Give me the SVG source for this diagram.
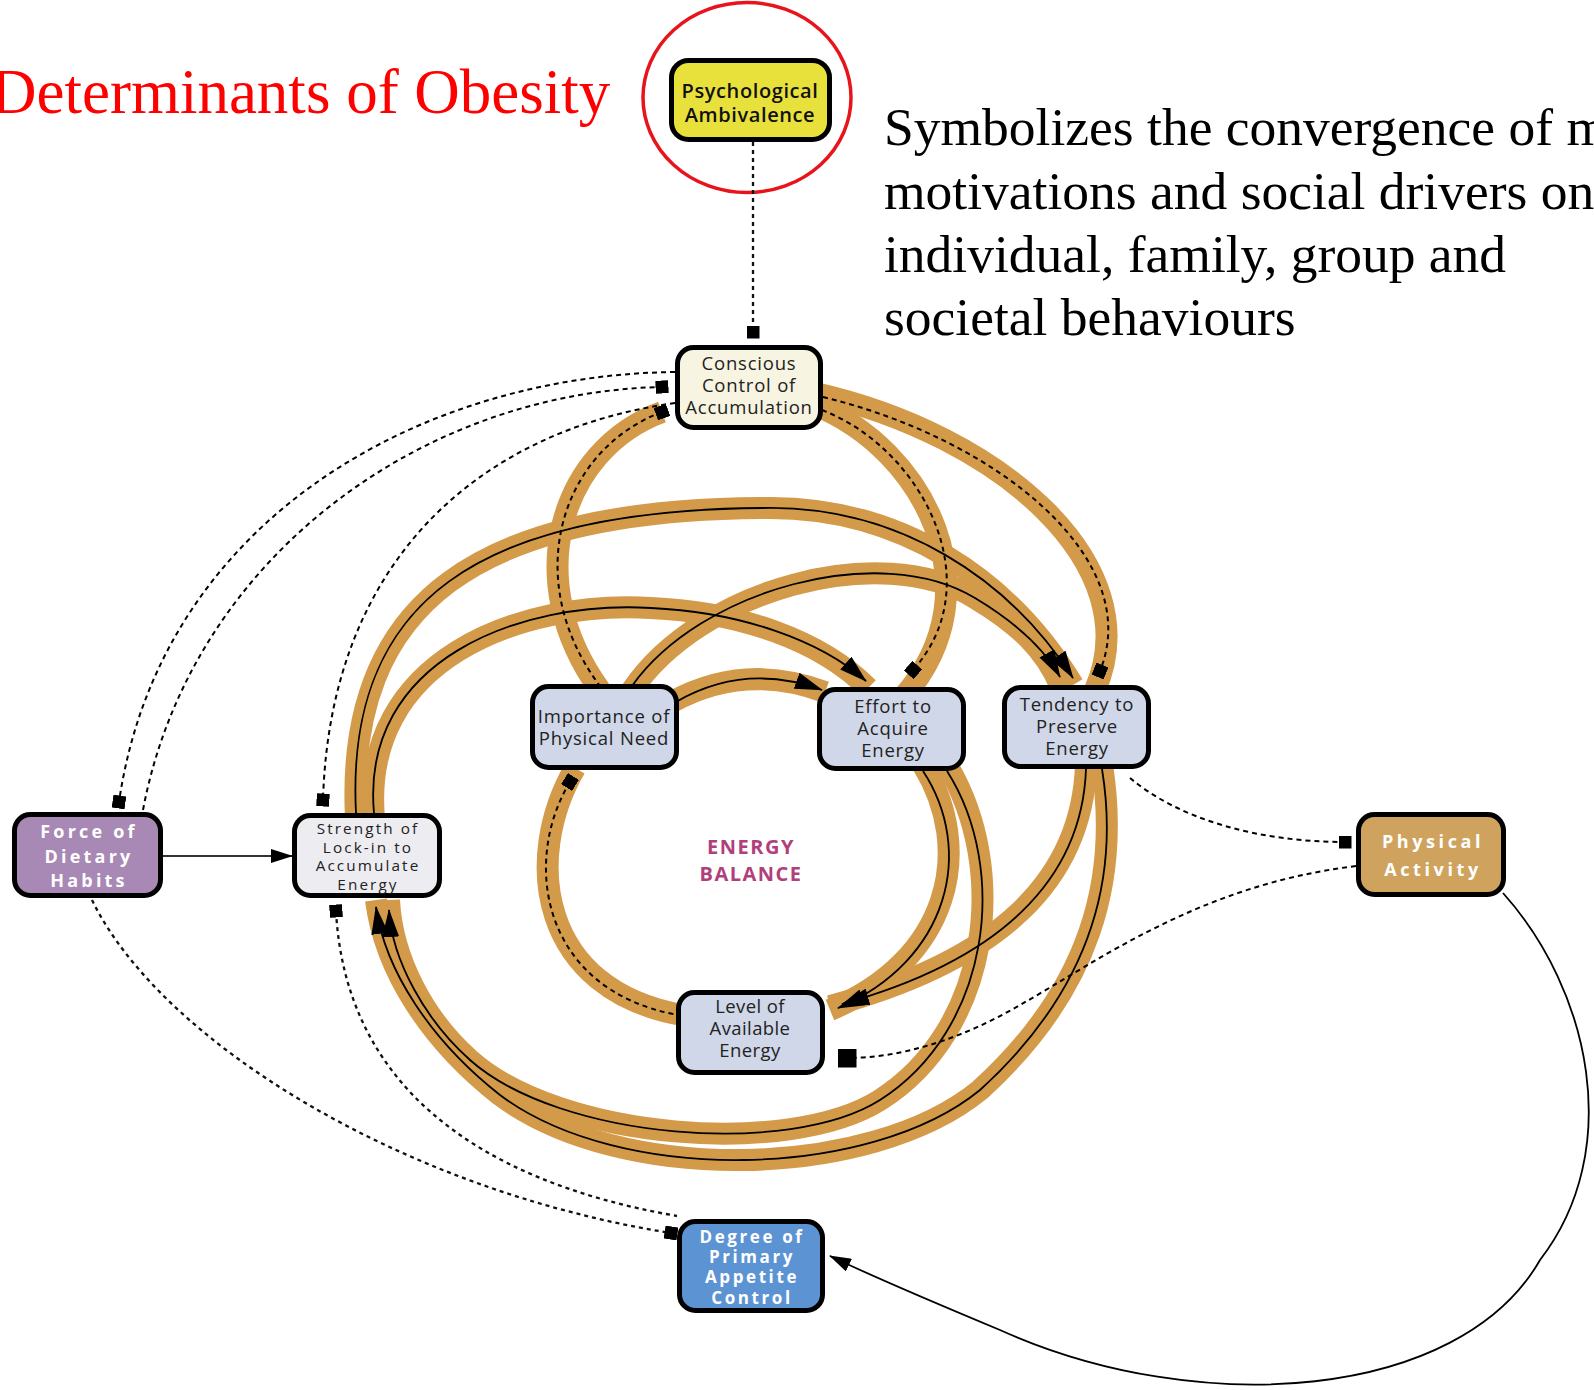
<svg xmlns="http://www.w3.org/2000/svg" width="1594" height="1390" viewBox="0 0 1594 1390">
<defs>
<style>
.band{fill:none;stroke:#d39a49;stroke-width:22;}
.ln{fill:none;stroke:#000;stroke-width:1.8;}
.dl{fill:none;stroke:#000;stroke-width:2;stroke-dasharray:5 4;}
.dt{fill:none;stroke:#111;stroke-width:2.3;stroke-dasharray:4 4;}
.box{stroke:#000;stroke-width:5;}
.t{font-family:"Open Sans","Noto Sans",sans-serif;font-size:18.5px;fill:#222;text-anchor:middle;letter-spacing:0.8px;}
.w{font-family:"Open Sans","Noto Sans",sans-serif;font-weight:700;fill:#fff;text-anchor:middle;}
</style>
<marker id="arr" viewBox="0 0 28 17" refX="27" refY="8.5" markerWidth="28" markerHeight="17" markerUnits="userSpaceOnUse" orient="auto"><path d="M0,0 L28,8.5 L0,17 z" fill="#000"/></marker>
<marker id="arrS" viewBox="0 0 22 14" refX="21" refY="7" markerWidth="22" markerHeight="14" markerUnits="userSpaceOnUse" orient="auto"><path d="M0,0 L22,7 L0,14 z" fill="#000"/></marker>
<marker id="sq" viewBox="0 0 13 13" refX="6.5" refY="6.5" markerWidth="13" markerHeight="13" markerUnits="userSpaceOnUse" orient="auto"><rect width="13" height="13" fill="#000"/></marker>
<marker id="sqL" viewBox="0 0 19 19" refX="9.5" refY="9.5" markerWidth="19" markerHeight="19" markerUnits="userSpaceOnUse" orient="0"><rect width="19" height="19" fill="#000"/></marker>
</defs>
<rect width="1594" height="1390" fill="#fff"/>

<text x="-9" y="113" font-family="Liberation Serif, serif" font-size="63" fill="#f00">Determinants of Obesity</text>
<ellipse cx="747" cy="97.5" rx="104" ry="95" fill="none" stroke="#e8141c" stroke-width="3.5"/>
<g font-family="Liberation Serif, serif" font-size="53.5" fill="#000">
<text x="884" y="145">Symbolizes the convergence of m</text>
<text x="884" y="209">motivations and social drivers on</text>
<text x="884" y="272">individual, family, group and</text>
<text x="884" y="335">societal behaviours</text>
</g>

<g id="connectors">
<!-- orange bands -->
<path class="band" d="M 662 412 C 560 450 520 580 600 690"/>
<path class="band" d="M 815 405 C 925 450 995 590 905 695"/>
<path class="band" d="M 815 393 C 1000 435 1150 565 1095 690"/>
<path class="band" d="M 356 818 C 345 600 480 510 762 508 C 900 505 1010 580 1073 685"/>
<path class="band" d="M 374 818 C 360 660 520 600 651 608 C 740 612 820 640 868 688"/>
<path class="band" d="M 632 690 C 700 590 880 540 975 598 C 1020 625 1045 650 1060 685"/>
<path class="band" d="M 672 702 Q 745 662 825 692"/>
<path class="band" d="M 575 768 C 522 860 540 990 682 1015"/>
<path class="band" d="M 923 765 C 975 850 950 960 830 1010"/>
<path class="band" d="M 1086 765 C 1082 880 1000 960 830 1006"/>
<path class="band" d="M 947 765 C 1010 870 990 1030 880 1100 C 790 1157 560 1140 470 1060 C 425 1020 392 960 389 900"/>
<path class="band" d="M 1102 765 C 1120 880 1090 990 980 1090 C 870 1180 620 1185 500 1095 C 430 1040 385 970 376 900"/>

<!-- lines inside bands -->
<path class="dl" d="M 662 412 C 560 450 520 580 600 686" marker-start="url(#sq)"/>
<path class="dl" d="M 822 410 C 925 450 990 585 913 670" marker-end="url(#sq)"/>
<path class="dl" d="M 823 397 C 1000 440 1145 560 1100 671" marker-end="url(#sq)"/>
<path class="ln" d="M 356 813 C 345 600 480 510 762 508 C 900 505 1010 580 1073 678" marker-end="url(#arr)"/>
<path class="ln" d="M 374 813 C 360 660 520 600 651 608 C 740 612 820 640 866 681" marker-end="url(#arr)"/>
<path class="ln" d="M 632 686 C 700 590 880 540 975 598 C 1020 625 1045 650 1060 677" marker-end="url(#arr)"/>
<path class="ln" d="M 676 702 Q 745 662 822 690" marker-end="url(#arr)"/>
<path class="dl" d="M 570 782 C 522 860 540 990 678 1015" marker-start="url(#sq)"/>
<path class="ln" d="M 923 771 C 975 850 950 960 838 1008" marker-end="url(#arr)"/>
<path class="ln" d="M 1086 769 C 1082 880 1000 960 842 1004" marker-end="url(#arr)"/>
<path class="ln" d="M 947 771 C 1010 870 990 1030 880 1100 C 790 1157 560 1140 470 1060 C 425 1020 392 960 389 910" marker-end="url(#arr)"/>
<path class="ln" d="M 1102 769 C 1120 880 1090 990 980 1090 C 870 1180 620 1185 500 1095 C 430 1040 385 970 376 907" marker-end="url(#arr)"/>

<!-- thin connectors -->
<path class="dt" stroke="#555" d="M 753 142 L 753 332" marker-end="url(#sq)"/>
<path class="dl" d="M 675 372 C 420 375 160 520 119 802" marker-end="url(#sq)"/>
<path class="dl" d="M 143 810 C 190 560 420 392 662 387" marker-end="url(#sq)"/>
<path class="dl" d="M 675 403 C 480 430 330 560 323 800" marker-end="url(#sq)"/>
<path d="M 163 856 L 292 856" fill="none" stroke="#333" stroke-width="2" marker-end="url(#arrS)"/>
<path class="dt" d="M 92 900 C 160 1040 400 1190 671 1233" marker-end="url(#sq)"/>
<path class="dt" d="M 336 911 C 345 1080 470 1180 677 1216" marker-start="url(#sq)"/>
<path class="dl" d="M 1130 778 C 1180 820 1260 842 1345 842" marker-end="url(#sq)"/>
<path class="dl" d="M 1356 866 C 1200 885 1100 960 1020 1005 C 960 1040 900 1058 847 1058" marker-end="url(#sqL)"/>
<path class="ln" d="M 1503 893 C 1590 990 1625 1150 1540 1260 C 1460 1400 1200 1420 1000 1330 C 940 1305 880 1280 830 1256" marker-end="url(#arrS)"/>
</g>

<g id="psych"><rect class="box" x="671.5" y="60.5" width="158" height="79" rx="17" fill="#e9e13b"/>
<text class="t" style="font-size:20px;font-weight:600;fill:#111;letter-spacing:0.6px"><tspan x="750" y="98">Psychological</tspan><tspan x="750" y="122">Ambivalence</tspan></text></g>

<g id="conscious"><rect class="box" x="677.5" y="347.5" width="143" height="80" rx="16" fill="#f7f4e1"/>
<text class="t"><tspan x="749" y="370">Conscious</tspan><tspan x="749" y="392">Control of</tspan><tspan x="749" y="414">Accumulation</tspan></text></g>

<g id="importance"><rect class="box" x="532.5" y="686.5" width="144" height="81" rx="16" fill="#d0d7e8"/>
<text class="t"><tspan x="604" y="723">Importance of</tspan><tspan x="604" y="745">Physical Need</tspan></text></g>

<g id="effort"><rect class="box" x="819.5" y="689.5" width="144" height="79" rx="16" fill="#d0d7e8"/>
<text class="t"><tspan x="893" y="713">Effort to</tspan><tspan x="893" y="735">Acquire</tspan><tspan x="893" y="757">Energy</tspan></text></g>

<g id="tendency"><rect class="box" x="1004.5" y="687.5" width="144" height="79" rx="16" fill="#d0d7e8"/>
<text class="t"><tspan x="1077" y="711">Tendency to</tspan><tspan x="1077" y="733">Preserve</tspan><tspan x="1077" y="755">Energy</tspan></text></g>

<g id="force"><rect class="box" x="14.5" y="814.5" width="146" height="81" rx="16" fill="#a888b4"/>
<text class="w" style="font-size:18px;letter-spacing:3.2px"><tspan x="89" y="838">Force of</tspan><tspan x="89" y="863">Dietary</tspan><tspan x="89" y="887">Habits</tspan></text></g>

<g id="strength"><rect class="box" x="294.5" y="815.5" width="145" height="80" rx="16" fill="#ededf1"/>
<text class="t" style="font-size:15.3px;letter-spacing:2.1px"><tspan x="368" y="834">Strength of</tspan><tspan x="368" y="852.5">Lock-in to</tspan><tspan x="368" y="871">Accumulate</tspan><tspan x="368" y="889.5">Energy</tspan></text></g>

<g id="level"><rect class="box" x="678.5" y="992.5" width="144" height="80" rx="16" fill="#d0d7e8"/>
<text class="t" style="letter-spacing:0.4px"><tspan x="750" y="1013">Level of</tspan><tspan x="750" y="1035">Available</tspan><tspan x="750" y="1057">Energy</tspan></text></g>

<g id="physical"><rect class="box" x="1358.5" y="814.5" width="145" height="80" rx="16" fill="#cfa35e"/>
<text class="w" style="font-size:18px;letter-spacing:3.6px"><tspan x="1433" y="848">Physical</tspan><tspan x="1433" y="876">Activity</tspan></text></g>

<g id="degree"><rect class="box" x="679.5" y="1221.5" width="143" height="89" rx="16" fill="#5b93d3"/>
<text class="w" style="font-size:17px;letter-spacing:2.6px"><tspan x="752" y="1243">Degree of</tspan><tspan x="752" y="1263">Primary</tspan><tspan x="752" y="1283">Appetite</tspan><tspan x="752" y="1304">Control</tspan></text></g>

<g id="energy-balance">
<text font-family="Open Sans, Noto Sans, sans-serif" font-weight="700" font-size="20" fill="#b13f7b" text-anchor="middle" letter-spacing="1.5"><tspan x="751" y="854">ENERGY</tspan><tspan x="751" y="881">BALANCE</tspan></text></g>
</svg>
